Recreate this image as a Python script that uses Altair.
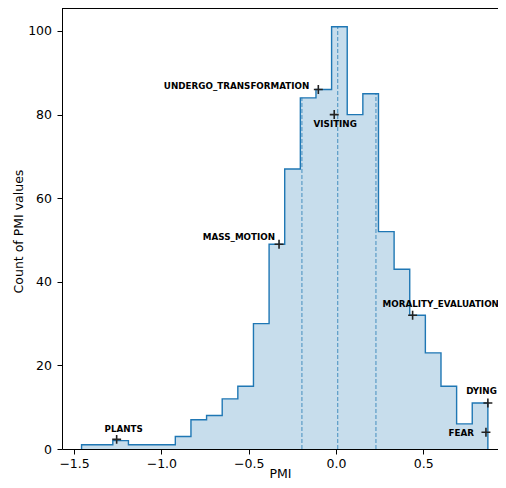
import altair as alt
import pandas as pd

# Histogram bins (edges) and counts
bin_edges = [-1.457, -1.3675, -1.278, -1.1885, -1.099, -1.0095, -0.920, -0.8305,
             -0.741, -0.6515, -0.562, -0.4725, -0.383, -0.2935, -0.204, -0.1145,
             -0.025, 0.0645, 0.154, 0.2435, 0.333, 0.4225, 0.512, 0.6015, 0.691,
             0.7805, 0.870]
counts = [1, 1, 2, 1, 1, 1, 3, 7, 8, 12, 15, 30, 49, 67, 84, 86, 101, 80, 85,
          52, 43, 32, 23, 15, 6, 11]

# Quartile markers (dashed lines)
quartiles = [-0.195, 0.010, 0.229]

# Annotated points
label_names = ["PLANTS", "MASS_MOTION", "UNDERGO_TRANSFORMATION", "VISITING",
               "MORALITY_EVALUATION", "DYING", "FEAR"]
label_pmi = [-1.256, -0.326, -0.101, -0.010, 0.439, 0.870, 0.859]
label_count = [2.3, 49, 86, 80, 32, 11, 4]

# Label placement styles (align, dx, dy)
label_style = {
    "PLANTS": ("center", 7, -10),
    "MASS_MOTION": ("right", -4, -7.6),
    "UNDERGO_TRANSFORMATION": ("right", -9, -3.3),
    "VISITING": ("center", 1, 9.3),
    "MORALITY_EVALUATION": ("left", -30, -11),
    "DYING": ("right", 9, -12),
    "FEAR": ("right", -12, 0.7),
}

BLUE = "#1f77b4"
W, H = 436, 441
X_DOMAIN = [-1.569, 0.928]
Y_DOMAIN = [0, 105.5]

xs = alt.Scale(domain=X_DOMAIN, nice=False, zero=False)
ys = alt.Scale(domain=Y_DOMAIN, nice=False, zero=False)

x_axis = alt.Axis(values=[-1.5, -1.0, -0.5, 0.0, 0.5], format=".1f", title="PMI",
                  tickSize=5, labelPadding=3, titleY=28.5, titleBaseline="alphabetic")
y_axis = alt.Axis(values=[0, 20, 40, 60, 80, 100], title="Count of PMI values",
                  tickSize=5, labelPadding=5.5, titleX=-40, titleY=223,
                  titleBaseline="alphabetic", titleAngle=270)

area_df = pd.DataFrame({"x": bin_edges, "y": counts + [counts[-1]]})
line_x = [bin_edges[0]] + bin_edges + [bin_edges[-1]]
line_y = [0] + counts + [counts[-1], 0]
line_df = pd.DataFrame({"x": line_x, "y": line_y, "i": list(range(len(line_x)))})


def bin_height(v):
    for k in range(len(counts)):
        if bin_edges[k] <= v < bin_edges[k + 1]:
            return counts[k]
    return 0


q_df = pd.DataFrame({"x": quartiles, "y0": [0] * len(quartiles),
                     "h": [bin_height(q) for q in quartiles]})
pts_df = pd.DataFrame({"name": label_names, "x": label_pmi, "y": label_count})

area = alt.Chart(area_df).mark_area(interpolate="step-after", color=BLUE, opacity=0.25).encode(
    x=alt.X("x:Q", scale=xs, axis=x_axis),
    y=alt.Y("y:Q", scale=ys, axis=y_axis),
)
outline = alt.Chart(line_df).mark_line(interpolate="step-after", color=BLUE, strokeWidth=1.4).encode(
    x=alt.X("x:Q", scale=xs),
    y=alt.Y("y:Q", scale=ys),
    order="i:Q",
)
qlines = alt.Chart(q_df).mark_rule(color=BLUE, opacity=0.7, strokeWidth=1.1,
                                   strokeDash=[4, 2]).encode(
    x=alt.X("x:Q", scale=xs),
    y=alt.Y("y0:Q", scale=ys),
    y2="h:Q",
)
markers = alt.Chart(pts_df).mark_point(shape="M-1,0L1,0M0,-1L0,1", size=80, filled=False,
                                       color="#222222", strokeWidth=1.6, opacity=1).encode(
    x=alt.X("x:Q", scale=xs),
    y=alt.Y("y:Q", scale=ys),
)
# top spine
top_spine = alt.Chart(pts_df).mark_rule(color="black", strokeWidth=1).encode(
    x=alt.value(0), x2=alt.value(W), y=alt.value(0)
)

texts = []
for nm in label_names:
    al, dx, dy = label_style[nm]
    texts.append(
        alt.Chart(pts_df).transform_filter(alt.datum.name == nm).mark_text(
            align=al, baseline="middle", dx=dx, dy=dy, font="DejaVu Sans",
            fontWeight="bold", fontSize=8.75, color="black"
        ).encode(x=alt.X("x:Q", scale=xs), y=alt.Y("y:Q", scale=ys), text="name:N")
    )

chart = alt.layer(area, outline, qlines, markers, top_spine, *texts).properties(
    width=W, height=H,
    autosize=alt.AutoSizeParams(type="none"),
    padding={"left": 54, "top": 0, "right": 0, "bottom": 31},
).configure_view(
    strokeWidth=0
).configure_axis(
    grid=False, domainColor="black", tickColor="black", labelColor="black",
    titleColor="black", labelFont="DejaVu Sans", titleFont="DejaVu Sans",
    labelFontSize=12.5, titleFontSize=12.5, titleFontWeight="normal", domainWidth=1,
    tickWidth=1
)

chart.save("out.html", embed_options={"renderer": "svg", "actions": False})
